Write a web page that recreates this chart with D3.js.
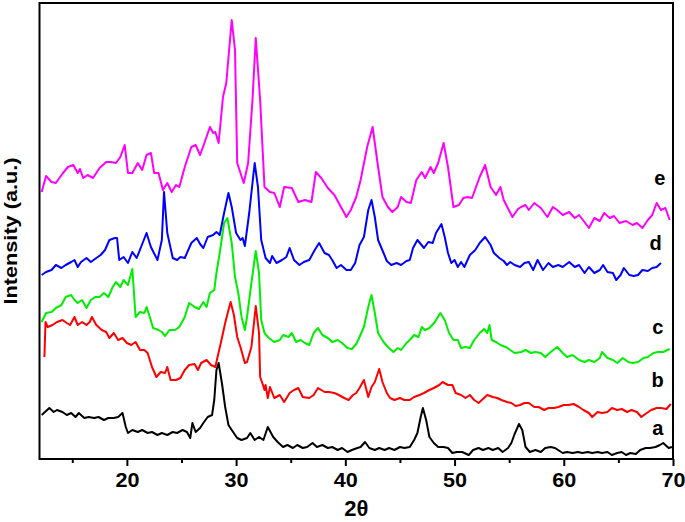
<!DOCTYPE html>
<html>
<head>
<meta charset="utf-8">
<script src="https://cdn.jsdelivr.net/npm/d3@7"></script>
<style>
    body { margin: 0; background: #fff; }
    text { font-family: "Liberation Sans", Arial, sans-serif; font-weight: bold; }
</style>
</head>
<body>
<div id="chart"></div>
<script>
// Data: [2theta, intensity (a.u., offset traces)]
const traceA = [
    [12.2,44],[12.5,47],[12.9,51],[13.3,47],[13.6,49],[14.1,47],[14.5,44],[14.9,46],[15.3,42],[15.6,46],
    [16.1,41],[16.5,42],[17.0,41],[17.4,42],[17.9,39],[18.3,41],[18.8,41],[19.2,42],[19.6,46],[19.9,32],
    [20.1,26],[20.5,29],[21.0,27],[21.4,29],[21.9,26],[22.3,27],[22.8,24],[23.2,26],[23.7,24],[24.2,27],
    [24.6,26],[25.1,29],[25.5,27],[25.8,21],[26.0,36],[26.3,27],[26.7,31],[27.0,36],[27.4,42],[27.8,44],
    [28.0,59],[28.2,89],[28.4,96],[28.7,76],[29.0,52],[29.3,34],[29.6,29],[30.1,21],[30.5,19],[31.0,21],
    [31.3,26],[31.7,19],[32.1,22],[32.5,19],[32.9,32],[33.4,22],[33.8,17],[34.3,12],[34.7,14],[35.2,11],
    [35.6,14],[36.1,11],[36.5,12],[37.0,16],[37.4,12],[37.9,14],[38.4,11],[38.8,12],[39.3,9],[39.7,11],
    [40.2,7],[40.6,9],[41.1,11],[41.4,12],[41.8,17],[42.2,11],[42.7,9],[43.1,11],[43.6,9],[44.0,11],
    [44.5,9],[45.0,12],[45.4,11],[45.9,12],[46.3,19],[46.6,26],[46.9,42],[47.1,51],[47.4,39],[47.7,22],
    [48.1,16],[48.5,12],[49.0,12],[49.4,11],[49.8,6],[50.2,7],[50.7,7],[51.3,4],[51.7,9],[52.2,11],
    [52.6,9],[53.1,11],[53.5,9],[54.0,11],[54.4,7],[54.9,11],[55.2,16],[55.5,25],[55.9,35],[56.2,29],
    [56.5,12],[56.9,7],[57.4,9],[57.9,7],[58.3,11],[58.8,12],[59.2,11],[59.9,6],[60.3,7],[60.8,6],
    [61.3,7],[61.7,6],[62.2,7],[62.6,6],[63.1,7],[63.5,6],[64.0,7],[64.4,4],[64.9,6],[65.3,7],
    [65.7,4],[66.1,6],[66.6,5],[67.0,9],[67.5,11],[67.9,11],[68.4,12],[68.8,14],[69.1,16],[69.6,11],[69.9,12]
];
const traceB = [
    [12.45,102],[12.55,137],[12.75,132],[13.2,134],[13.6,137],[14.1,139],[14.5,136],[14.8,134],[15.2,142],[15.5,134],
    [15.9,137],[16.3,134],[16.6,137],[16.8,142],[17.2,134],[17.7,129],[18.1,127],[18.4,121],[18.8,126],[19.2,119],
    [19.6,121],[20.0,116],[20.4,114],[20.8,117],[21.2,109],[21.6,109],[21.9,106],[22.3,92],[22.7,82],[23.1,87],
    [23.5,86],[23.7,92],[24.0,79],[24.5,79],[24.9,81],[25.3,89],[25.7,94],[26.2,95],[26.5,89],[26.8,96],
    [27.3,99],[27.7,94],[28.1,92],[28.3,102],[28.6,116],[29.0,136],[29.3,149],[29.5,157],[29.8,144],[30.1,122],
    [30.4,112],[30.8,96],[31.0,97],[31.4,112],[31.8,153],[32.1,126],[32.2,82],[32.4,76],[32.6,69],[32.7,74],
    [32.9,61],[33.1,72],[33.5,61],[34.0,64],[34.4,57],[34.9,66],[35.3,69],[35.7,71],[36.1,62],[36.7,61],
    [37.1,64],[37.5,71],[38.1,67],[38.5,67],[39.0,66],[39.4,64],[39.9,61],[40.3,59],[40.7,64],[41.0,66],
    [41.3,71],[41.7,79],[42.1,62],[42.4,72],[42.7,77],[43.1,90],[43.4,77],[43.8,66],[44.1,61],[44.5,59],
    [45.0,61],[45.4,59],[45.9,59],[46.3,62],[46.8,64],[47.2,66],[47.7,69],[48.1,71],[48.6,74],[48.9,77],
    [49.4,74],[49.8,74],[50.1,66],[50.6,64],[51.0,61],[51.4,64],[51.8,59],[52.2,56],[52.7,61],[53.0,64],
    [53.5,62],[53.9,61],[54.3,59],[54.8,57],[55.2,56],[55.6,53],[56.0,54],[56.4,56],[56.8,56],[57.3,52],
    [57.7,52],[58.2,49],[58.6,51],[59.1,51],[59.5,52],[60.0,54],[60.4,54],[60.9,55],[61.4,52],[61.8,49],
    [62.3,46],[62.6,42],[63.1,47],[63.5,46],[64.0,47],[64.4,51],[64.9,49],[65.3,50],[65.8,47],[66.2,49],
    [66.7,47],[67.1,42],[67.6,46],[68.0,49],[68.5,51],[68.9,51],[69.4,50],[69.8,55]
];
const traceC = [
    [12.2,137],[12.6,146],[13.1,147],[13.5,151],[14.0,154],[14.4,162],[14.9,164],[15.2,159],[15.5,156],[15.9,159],
    [16.3,151],[16.7,159],[17.1,162],[17.5,162],[17.9,166],[18.3,162],[18.7,172],[19.0,177],[19.4,172],[19.7,179],
    [20.1,174],[20.5,190],[20.8,142],[21.2,147],[21.6,146],[21.8,152],[22.1,142],[22.4,131],[22.9,129],[23.2,127],
    [23.5,123],[23.9,129],[24.4,129],[24.8,132],[25.3,142],[25.7,156],[26.2,152],[26.6,150],[27.0,157],[27.3,152],
    [27.6,166],[28.0,169],[28.2,186],[28.5,206],[28.9,236],[29.2,241],[29.6,216],[29.9,182],[30.2,166],[30.5,142],
    [30.8,129],[31.0,142],[31.4,176],[31.8,208],[32.1,186],[32.3,139],[32.6,126],[33.0,121],[33.5,117],[34.0,119],
    [34.3,124],[34.8,122],[35.1,126],[35.5,117],[35.9,119],[36.3,116],[36.7,114],[37.1,126],[37.5,131],[37.9,124],
    [38.4,121],[38.8,117],[39.3,119],[39.7,116],[40.2,111],[40.6,110],[41.0,115],[41.3,122],[41.7,132],[42.1,152],
    [42.4,164],[42.7,146],[43.0,126],[43.5,117],[43.9,112],[44.4,107],[44.8,111],[45.1,109],[45.6,116],[45.9,119],
    [46.3,124],[46.7,122],[47.0,132],[47.3,129],[47.7,131],[48.2,137],[48.7,146],[49.1,139],[49.5,126],[49.9,119],
    [50.3,119],[50.6,111],[51.0,112],[51.4,111],[51.8,119],[52.3,126],[52.7,130],[53.0,126],[53.2,134],[53.4,119],
    [53.8,117],[54.2,114],[54.7,112],[55.1,109],[55.5,106],[56.1,107],[56.5,109],[57.0,106],[57.4,107],[57.9,106],
    [58.3,102],[58.8,107],[59.4,112],[59.9,106],[60.3,102],[60.8,104],[61.4,99],[61.9,97],[62.3,99],[62.8,97],
    [63.3,101],[63.5,107],[64.0,101],[64.5,99],[64.9,96],[65.4,101],[65.9,97],[66.3,96],[66.8,97],[67.3,101],
    [67.7,102],[68.2,106],[68.6,107],[69.1,107],[69.7,110]
];
const traceD = [
    [12.2,184],[12.6,187],[13.1,189],[13.5,194],[14.0,191],[14.4,194],[14.9,197],[15.2,199],[15.5,192],[15.8,197],
    [16.3,201],[16.7,197],[17.2,201],[17.6,204],[18.0,209],[18.4,219],[18.9,221],[19.1,221],[19.3,199],[19.7,202],
    [20.1,196],[20.5,207],[20.9,201],[21.3,212],[21.8,226],[22.2,212],[22.8,199],[23.2,219],[23.4,267],[23.7,226],
    [24.2,201],[24.6,199],[24.9,202],[25.3,201],[25.9,216],[26.4,221],[26.7,215],[27.0,211],[27.4,222],[27.9,224],
    [28.2,227],[28.5,224],[28.9,246],[29.3,266],[29.6,252],[30.0,226],[30.4,219],[30.6,221],[30.8,213],[31.2,246],
    [31.7,296],[32.0,272],[32.3,219],[32.7,201],[33.1,196],[33.3,203],[33.7,196],[34.2,199],[34.6,202],[34.9,211],
    [35.3,199],[35.8,194],[36.2,197],[36.7,199],[37.2,209],[37.6,216],[38.1,206],[38.5,204],[38.8,199],[39.2,191],
    [39.6,194],[40.1,189],[40.5,189],[40.9,196],[41.3,214],[41.7,222],[42.1,249],[42.4,259],[42.7,242],[43.0,219],
    [43.5,206],[43.8,198],[44.2,194],[44.7,196],[45.1,194],[45.6,198],[45.9,199],[46.2,211],[46.6,219],[47.2,211],
    [47.6,217],[48.0,216],[48.3,226],[48.8,235],[49.1,222],[49.4,206],[49.7,196],[50.0,199],[50.3,192],[50.6,197],
    [50.9,192],[51.4,204],[51.9,209],[52.3,216],[52.8,222],[53.3,214],[53.6,206],[54.1,201],[54.5,198],[54.8,194],
    [55.1,197],[55.5,194],[56.0,192],[56.4,196],[56.8,197],[57.2,189],[57.6,199],[58.1,189],[58.6,196],[59.0,192],
    [59.5,194],[59.9,192],[60.5,197],[61.0,192],[61.4,194],[61.9,186],[62.3,192],[62.8,186],[63.3,189],[63.6,194],
    [64.0,187],[64.5,186],[64.8,179],[65.2,184],[65.5,191],[66.0,184],[66.4,183],[66.8,184],[67.2,189],[67.7,188],
    [68.1,191],[68.5,192],[68.9,196]
];
const traceE = [
    [12.2,267],[12.6,283],[13.1,277],[13.5,276],[14.15,286],[14.6,292],[15.1,294],[15.5,286],[15.7,290],[16.0,281],
    [16.4,284],[16.9,281],[17.5,291],[18.1,297],[18.5,297],[19.0,296],[19.4,302],[19.8,314],[20.1,286],[20.5,286],
    [21.0,296],[21.4,289],[21.8,304],[22.2,306],[22.5,286],[22.9,286],[23.3,269],[23.7,276],[24.1,267],[24.5,274],
    [24.8,272],[25.3,292],[25.9,312],[26.3,314],[26.7,304],[27.1,316],[27.6,332],[27.9,326],[28.1,327],[28.4,316],
    [28.8,362],[29.1,376],[29.6,439],[29.9,409],[30.1,296],[30.7,276],[31.1,296],[31.5,359],[31.8,421],[32.2,359],
    [32.6,272],[33.1,267],[33.5,266],[34.0,252],[34.4,272],[35.1,271],[35.7,257],[36.3,259],[36.9,257],[37.3,287],
    [37.8,281],[38.4,271],[39.0,264],[39.6,252],[40.1,242],[40.5,249],[41.0,262],[41.4,279],[42.0,312],[42.5,332],
    [43.0,292],[43.4,262],[43.9,252],[44.3,247],[44.8,252],[45.1,262],[45.6,257],[46.0,256],[46.5,279],[47.0,287],
    [47.3,281],[47.8,292],[48.1,286],[48.5,296],[49.0,316],[49.4,292],[49.9,252],[50.4,254],[50.8,261],[51.2,262],
    [51.6,261],[52.3,282],[52.8,294],[53.3,272],[53.8,264],[54.2,272],[54.5,259],[55.3,242],[55.8,250],[56.1,252],
    [56.5,254],[56.8,249],[57.3,256],[57.9,251],[58.5,242],[59.0,252],[59.4,249],[59.9,244],[60.5,247],[61.0,241],
    [61.4,244],[61.9,237],[62.3,231],[62.8,241],[63.3,238],[63.7,246],[64.2,241],[64.6,243],[65.1,236],[65.7,238],
    [66.3,234],[66.7,236],[67.2,231],[67.7,239],[68.1,244],[68.5,256],[68.9,249],[69.3,251],[69.7,239]
];

const seriesNames = ["a", "b", "c", "d", "e"];
const seriesColors = ["#000000", "#ff0000", "#00ee00", "#0000ff", "#ff00ff"];
const seriesLabelAt = [[68.6, 24], [68.6, 72], [68.6, 125], [68.4, 209], [68.8, 274]];
const majorTicks = [20, 30, 40, 50, 60, 70];
const minorTicks = [15, 25, 35, 45, 55, 65];

const width = 685, height = 522;
const margin = {top: 3, right: 12, bottom: 63, left: 39.5};

const svg = d3.select("#chart")
    .append("svg")
    .attr("width", width)
    .attr("height", height);

svg.append("rect").attr("width", width).attr("height", height).attr("fill", "#fff");

const x = d3.scaleLinear()
    .domain([12, 70])
    .range([margin.left, width - margin.right]);
const y = d3.scaleLinear()
    .domain([0, 456])
    .range([height - margin.bottom, margin.top]);

const traces = [traceA, traceB, traceC, traceD, traceE];

const line = d3.line()
    .x(d => x(d[0]))
    .y(d => y(d[1]));

svg.append("g")
    .selectAll("path")
    .data(traces)
    .join("path")
    .attr("d", line)
    .attr("fill", "none")
    .attr("stroke", (d, i) => seriesColors[i])
    .attr("stroke-width", 2)
    .attr("stroke-linejoin", "round");

// trace labels
svg.append("g")
    .selectAll("text")
    .data(seriesNames)
    .join("text")
    .attr("x", (d, i) => x(seriesLabelAt[i][0]))
    .attr("y", (d, i) => y(seriesLabelAt[i][1]))
    .attr("text-anchor", "middle")
    .attr("font-size", 20)
    .text(d => d);

// frame
svg.append("rect")
    .attr("x", x(12))
    .attr("y", y(456))
    .attr("width", x(70) - x(12))
    .attr("height", y(0) - y(456))
    .attr("fill", "none")
    .attr("stroke", "#000")
    .attr("stroke-width", 2);

// x axis
const xAxis = svg.append("g")
    .attr("transform", `translate(0,${y(0)})`)
    .call(d3.axisBottom(x).tickValues(majorTicks).tickSize(7).tickPadding(7).tickFormat(d3.format("d")));
xAxis.select(".domain").remove();
xAxis.selectAll(".tick line").attr("stroke-width", 2);
xAxis.selectAll(".tick text")
    .attr("font-size", 20)
    .attr("font-family", "'Liberation Sans', Arial, sans-serif")
    .attr("font-weight", "bold")
    .attr("textLength", 24)
    .attr("lengthAdjust", "spacingAndGlyphs");

const xMinor = svg.append("g")
    .attr("transform", `translate(0,${y(0)})`)
    .call(d3.axisBottom(x).tickValues(minorTicks).tickSize(4).tickFormat(""));
xMinor.select(".domain").remove();
xMinor.selectAll(".tick line").attr("stroke-width", 2);

// axis titles
svg.append("text")
    .attr("x", (x(12) + x(70)) / 2)
    .attr("y", 516)
    .attr("text-anchor", "middle")
    .attr("font-size", 22)
    .text("2θ");

svg.append("text")
    .attr("transform", `translate(17,${(y(0) + y(456)) / 2}) rotate(-90)`)
    .attr("text-anchor", "middle")
    .attr("font-size", 19)
    .attr("textLength", 147)
    .attr("lengthAdjust", "spacingAndGlyphs")
    .text("Intensity (a.u.)");
</script>
</body>
</html>
